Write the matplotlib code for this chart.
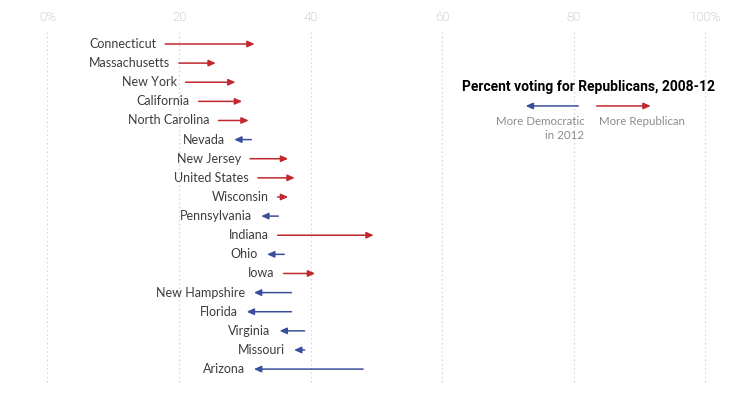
import matplotlib
matplotlib.use("Agg")
import matplotlib.pyplot as plt
from matplotlib.patches import FancyArrowPatch

plt.rcParams['font.family'] = ['Lato', 'DejaVu Sans']

states = ["Connecticut", "Massachusetts", "New York", "California", "North Carolina",
          "Nevada", "New Jersey", "United States", "Wisconsin", "Pennsylvania",
          "Indiana", "Ohio", "Iowa", "New Hampshire", "Florida", "Virginia",
          "Missouri", "Arizona"]
pct_2008 = [17.9, 20.0, 21.0, 23.0, 26.0, 31.0, 30.8, 32.0, 35.0, 35.1,
            35.0, 36.0, 35.9, 37.1, 37.1, 39.1, 39.1, 48.0]
pct_2012 = [31.5, 25.6, 28.6, 29.6, 30.6, 28.4, 36.6, 37.6, 36.6, 32.5,
            49.6, 33.4, 40.7, 31.4, 30.3, 35.3, 37.5, 31.4]
ticks = [0, 20, 40, 60, 80, 100]
tick_labels = ["0%", "20", "40", "60", "80", "100%"]

RED = "#c1282e"
BLUE = "#3a4f9b"

fig = plt.figure(figsize=(7.5, 3.93), dpi=100)
ax = fig.add_axes([0, 0, 1, 1])
ax.set_xlim(-7.2, 106.8)
ax.set_ylim(18.25, -2.30)
ax.axis("off")

# gridlines and tick labels
for t, lab in zip(ticks, tick_labels):
    ax.plot([t, t], [-0.63, 17.73], color="#d5d5d5", lw=0.9, ls=(0, (1.2, 2.2)), zorder=0)
    ax.text(t, -1.41, lab, ha="center", va="center", fontsize=9.5, color="#aaaaaa",
            family=["Roboto", "DejaVu Sans"], fontweight="light")

def arrow(x0, x1, y, color):
    a = FancyArrowPatch((x0, y), (x1, y), arrowstyle="-|>,head_length=4.2,head_width=1.9",
                        mutation_scale=1, color=color, lw=1.1, shrinkA=0, shrinkB=0, zorder=3)
    ax.add_patch(a)

for i, (s, a0, a1) in enumerate(zip(states, pct_2008, pct_2012)):
    color = RED if a1 > a0 else BLUE
    arrow(a0, a1, i, color)
    ax.text(min(a0, a1) - 1.37, i, s, ha="right", va="center", fontsize=9.0,
            color="#3c3c3c")

# legend
ax.text(82.3, 2.23, "Percent voting for Republicans, 2008-12", ha="center", va="center",
        fontsize=10, fontweight="bold", color="#000000", family=["Roboto", "DejaVu Sans"])
arrow(80.7, 72.7, 3.24, BLUE)
arrow(83.5, 91.7, 3.24, RED)
ax.text(81.6, 4.06, "More Democratic", ha="right", va="center", fontsize=8.3,
        color="#8c8c8c")
ax.text(81.6, 4.80, "in 2012", ha="right", va="center", fontsize=8.3,
        color="#8c8c8c")
ax.text(83.8, 4.06, "More Republican", ha="left", va="center", fontsize=8.3,
        color="#8c8c8c")

fig.savefig("out.png", dpi=100)
